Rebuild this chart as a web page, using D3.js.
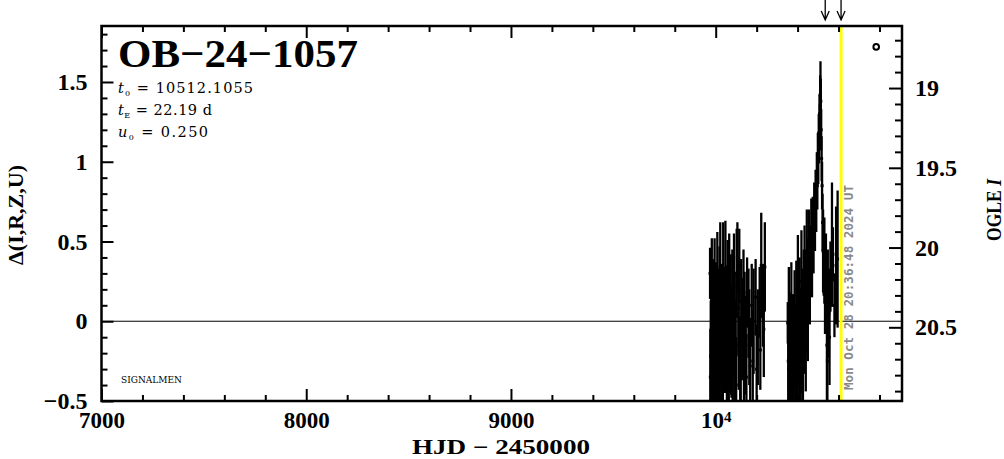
<!DOCTYPE html>
<html><head><meta charset="utf-8">
<script src="https://cdn.jsdelivr.net/npm/d3@7"></script>
<style>body{margin:0;background:#fff}svg{display:block}</style>
</head><body>
<script>
// ---------- data ----------
const eventName = "OB\u221224\u22121057";
const paramSym = ["t", "t", "u"];
const paramSub = ["0", "E", "0"];
const paramVal = ["10512.1055", "22.19 d", "0.250"];
const surveyName = "SIGNALMEN";

// season 2023
const hjd1 = [9972.5,9975.8,9978.1,9981.0,9983.4,9985.9,9988.2,9991.0,9994.6,9997.3,10001.2,10004.8,10008.0,10011.5,10015.3,10018.6,10022.4,10025.9,10029.1,10033.0,10036.7,10040.2,10043.8,10047.5,10051.0,10054.6,10058.3,10062.1,10066.0,10069.4,10073.2,10077.0,10081.3,10085.0,10089.4,10093.1,10097.8,10102.5,10106.0,10110.7,10115.2,10119.9,10124.6,10130.0,10135.8,10141.3,10147.0,10153.4,10160.2,10168.5,10176.0,10185.3,10195.0,10205.7,10214.8,10222.5,10230.6,10240.0,
  9974.0,9979.5,9986.8,9992.5,9999.0,10006.5,10013.0,10020.0,10027.5,10035.0,10045.5,10056.0,10064.0,10075.0,10083.0,10091.0,10100.0,10112.5,10122.0,10138.0,10150.0,10164.0,10181.0,10200.0,10218.0,10235.0];
const delta1 = [0.30,-0.22,-0.05,0.15,-0.30,-0.12,0.05,-0.35,0.22,-0.08,0.10,-0.18,0.30,0.02,-0.25,0.18,0.34,-0.02,0.12,-0.20,0.25,0.05,-0.12,0.33,0.10,-0.28,0.20,0.00,0.28,-0.15,0.08,-0.35,0.15,-0.05,0.22,0.05,-0.18,0.30,0.40,0.08,0.35,-0.25,0.12,-0.05,0.20,0.02,-0.15,0.18,0.05,-0.28,0.10,0.00,0.15,-0.10,0.12,0.35,0.10,0.34,
  -0.35,-0.15,-0.28,-0.40,-0.20,-0.32,-0.10,-0.38,-0.22,-0.30,-0.18,-0.36,-0.25,-0.12,-0.33,-0.20,-0.40,-0.15,-0.30,-0.22,-0.35,-0.10,-0.25,-0.30,-0.18,-0.05];
const err1 = [0.16,0.35,0.32,0.37,0.30,0.28,0.34,0.25,0.30,0.38,0.27,0.33,0.26,0.31,0.36,0.29,0.28,0.35,0.24,0.30,0.37,0.29,0.32,0.30,0.25,0.33,0.31,0.36,0.27,0.29,0.34,0.13,0.30,0.27,0.33,0.26,0.31,0.28,0.22,0.30,0.23,0.28,0.27,0.32,0.25,0.29,0.31,0.22,0.28,0.30,0.26,0.33,0.24,0.30,0.22,0.33,0.26,0.28,
  0.30,0.25,0.35,0.28,0.30,0.26,0.33,0.30,0.28,0.32,0.27,0.30,0.25,0.34,0.29,0.31,0.30,0.28,0.26,0.33,0.27,0.30,0.32,0.28,0.25,0.30];

// season 2024
const hjd2 = [10352.0,10354.5,10357.2,10360.0,10363.4,10366.1,10369.5,10373.8,10377.0,10381.6,10385.3,10389.0,10393.7,10397.2,10401.5,10405.8,10410.0,10414.3,10418.9,10422.5,10426.1,10430.4,10434.0,10437.7,10441.2,10445.0,10448.6,10452.3,10456.0,10459.8,10463.4,10467.0,10470.5,10474.2,10478.0,10481.3,10484.9,10488.0,10491.2,10494.0,10496.5,10499.0,10501.2,10503.4,10505.3,10507.0,10508.6,10510.2,10511.8,10513.5,10515.3,10517.4,10519.6,10522.0,10524.5,10527.3,10530.8,10534.0,10538.5,10543.2,10547.6,10553.0,10560.5,10568.0,10572.5,10580.0,10588.0,10595.5,
  10356.0,10362.0,10368.0,10375.5,10383.0,10391.0,10399.5,10408.0,10416.5,10424.0,10432.0,10440.0,10450.0,10545.5,10556.0];
const delta2 = [-0.01,-0.25,0.08,-0.30,-0.10,-0.35,0.12,-0.20,-0.05,-0.32,0.02,-0.15,0.10,-0.28,0.20,-0.10,0.05,-0.22,0.25,0.00,-0.30,0.15,0.32,0.05,0.20,0.40,0.10,0.30,0.45,0.22,0.40,0.55,0.35,0.60,0.50,0.70,0.62,0.80,0.72,0.92,0.85,1.05,1.00,1.18,1.12,1.30,1.25,1.42,1.51,1.38,1.20,1.02,0.85,0.62,0.44,0.40,0.38,0.20,0.30,-0.15,0.15,0.05,0.28,0.48,0.42,0.10,0.35,0.39,
  -0.30,-0.20,-0.38,-0.25,-0.15,-0.35,-0.22,-0.30,-0.12,-0.28,-0.05,-0.18,0.05,-0.25,-0.10];
const err2 = [0.13,0.30,0.26,0.22,0.28,0.25,0.25,0.32,0.22,0.26,0.30,0.25,0.28,0.27,0.34,0.30,0.35,0.28,0.32,0.33,0.25,0.30,0.28,0.27,0.25,0.30,0.28,0.22,0.25,0.24,0.20,0.22,0.20,0.18,0.20,0.17,0.18,0.15,0.16,0.14,0.15,0.13,0.14,0.12,0.13,0.12,0.11,0.12,0.12,0.12,0.13,0.14,0.15,0.18,0.26,0.24,0.27,0.28,0.25,0.40,0.30,0.28,0.22,0.39,0.17,0.20,0.37,0.43,
  0.28,0.30,0.25,0.32,0.27,0.30,0.28,0.25,0.33,0.30,0.28,0.26,0.30,0.35,0.30];

const xDomain = [7000, 10910];
const yDomain = [-0.5, 1.851];
const baseMag = 20.462;
const xMajor = [7000, 8000, 9000, 10000];
const xMajorLabels = ["7000", "8000", "9000", "10^4"];
const yMajor = [-0.5, 0, 0.5, 1, 1.5];
const yMajorLabels = ["\u22120.5", "0", "0.5", "1", "1.5"];
const magMajor = [19, 19.5, 20, 20.5];
const magMajorLabels = ["19", "19.5", "20", "20.5"];
const nowHJD = 10612.36;
const arrowHJD = [10535, 10612.36];
const stamp = "Mon Oct 28 20:36:48 2024 UT";
const markerPoint = [10784, 1.72];
const xTitle = "HJD \u2212 2450000";
const yTitle = "\u0394(I,R,Z,U)";
const magTitle = ["OGLE ", "I"];

// ---------- layout ----------
const W = 1004, H = 459;
const L = 101.5, R = 902, T = 26, B = 401;
const tickFont = "'Liberation Serif', serif";

const svg = d3.select("body").append("svg").attr("width", W).attr("height", H);

const x = d3.scaleLinear().domain(xDomain).range([L, R]);
const y = d3.scaleLinear().domain(yDomain).range([B, T]);
const yMag = d3.scaleLinear().domain([baseMag - yDomain[0], baseMag - yDomain[1]]).range([B, T]);

svg.append("defs").append("clipPath").attr("id", "plot")
  .append("rect").attr("x", L).attr("y", T).attr("width", R - L).attr("height", B - T);

// zero line
svg.append("line").attr("x1", L).attr("x2", R).attr("y1", y(0)).attr("y2", y(0))
  .attr("stroke", "#000").attr("stroke-width", 1);

// data
const pts = [];
hjd1.forEach((h, i) => pts.push({h, d: delta1[i], e: err1[i]}));
hjd2.forEach((h, i) => pts.push({h, d: delta2[i], e: err2[i]}));
const gData = svg.append("g").attr("clip-path", "url(#plot)");
gData.selectAll("line.eb").data(pts).join("line").attr("class", "eb")
  .attr("x1", d => x(d.h)).attr("x2", d => x(d.h))
  .attr("y1", d => y(d.d - d.e)).attr("y2", d => y(d.d + d.e))
  .attr("stroke", "#000").attr("stroke-width", 2.3);
gData.selectAll("rect.pt").data(pts).join("rect").attr("class", "pt")
  .attr("x", d => x(d.h) - 1.5).attr("y", d => y(d.d) - 1.5)
  .attr("width", 3).attr("height", 3).attr("fill", "#000");

// marker circle
svg.append("circle").attr("cx", x(markerPoint[0])).attr("cy", y(markerPoint[1])).attr("r", 2.8)
  .attr("fill", "none").attr("stroke", "#000").attr("stroke-width", 2);

// current-time line
svg.append("line").attr("x1", x(nowHJD)).attr("x2", x(nowHJD)).attr("y1", T).attr("y2", B)
  .attr("stroke", "#ffff00").attr("stroke-width", 3);

// timestamp
svg.append("text")
  .attr("transform", `translate(${x(nowHJD) + 12},${B - 11}) rotate(-90)`)
  .attr("font-family", "'DejaVu Sans Mono', monospace").attr("font-weight", "bold")
  .attr("font-size", 12.5).attr("fill", "#8a8a8a")
  .attr("textLength", 205).attr("lengthAdjust", "spacingAndGlyphs")
  .text(stamp);

function styleAxis(g, size) {
  g.select(".domain").remove();
  g.selectAll(".tick line").attr("stroke", "#000").attr("stroke-width", 2);
  g.selectAll("text").attr("font-family", tickFont).attr("font-weight", "bold")
    .attr("font-size", size || 24).attr("fill", "#000");
}
const xMinor = x.ticks(20).filter(v => xMajor.indexOf(v) < 0);
const yMinor = y.ticks(25).filter(v => !yMajor.some(m => Math.abs(m - v) < 1e-9));
const magMinor = yMag.ticks(25).filter(v => !magMajor.some(m => Math.abs(m - v) < 1e-9));

// bottom
svg.append("g").attr("transform", `translate(0,${B})`)
  .call(d3.axisBottom(x).tickValues(xMinor).tickSize(-6).tickFormat("")).call(styleAxis);
const gxb = svg.append("g").attr("transform", `translate(0,${B})`)
  .call(d3.axisBottom(x).tickValues(xMajor).tickSize(-12).tickPadding(11)
    .tickFormat((d, i) => xMajorLabels[i])).call(g => styleAxis(g, 23));
gxb.selectAll(".tick text").each(function(d, i) {
  const lab = xMajorLabels[i];
  if (lab.indexOf("^") >= 0) {
    const [b, s] = lab.split("^");
    const t = d3.select(this).text("");
    t.append("tspan").text(b);
    t.append("tspan").attr("dy", "-0.45em").attr("font-size", 15).text(s);
  }
});
// top
svg.append("g").attr("transform", `translate(0,${T})`)
  .call(d3.axisTop(x).tickValues(xMinor).tickSize(-6).tickFormat("")).call(styleAxis);
svg.append("g").attr("transform", `translate(0,${T})`)
  .call(d3.axisTop(x).tickValues(xMajor).tickSize(-12).tickFormat("")).call(styleAxis);
// left
svg.append("g").attr("transform", `translate(${L},0)`)
  .call(d3.axisLeft(y).tickValues(yMinor).tickSize(-6).tickFormat("")).call(styleAxis);
svg.append("g").attr("transform", `translate(${L},0)`)
  .call(d3.axisLeft(y).tickValues(yMajor).tickSize(-12).tickPadding(14)
    .tickFormat((d, i) => yMajorLabels[i])).call(styleAxis);
// right (OGLE I)
svg.append("g").attr("transform", `translate(${R},0)`)
  .call(d3.axisRight(yMag).tickValues(magMinor).tickSize(-7).tickFormat("")).call(styleAxis);
svg.append("g").attr("transform", `translate(${R},0)`)
  .call(d3.axisRight(yMag).tickValues(magMajor).tickSize(-13).tickPadding(13)
    .tickFormat((d, i) => magMajorLabels[i])).call(styleAxis);

// frame
svg.append("rect").attr("x", L).attr("y", T).attr("width", R - L).attr("height", B - T)
  .attr("fill", "none").attr("stroke", "#000").attr("stroke-width", 2.5);

// arrows
const gA = svg.append("g").attr("stroke", "#000").attr("stroke-width", 1.3).attr("fill", "none");
arrowHJD.forEach(h => {
  const ax = x(h);
  gA.append("path").attr("d", `M${ax},0 L${ax},20 M${ax - 4},11 L${ax},20 L${ax + 4},11`);
});

// axis titles
svg.append("text").attr("x", 501).attr("y", 454).attr("text-anchor", "middle")
  .attr("font-family", tickFont).attr("font-weight", "bold").attr("font-size", 21)
  .attr("textLength", 178).attr("lengthAdjust", "spacingAndGlyphs")
  .text(xTitle);
svg.append("text").attr("transform", `translate(23,${215}) rotate(-90)`).attr("text-anchor", "middle")
  .attr("font-family", tickFont).attr("font-weight", "bold").attr("font-size", 22)
  .text(yTitle);
const mt = svg.append("text").attr("transform", `translate(1001,${210}) rotate(-90)`).attr("text-anchor", "middle")
  .attr("font-family", tickFont).attr("font-weight", "bold").attr("font-size", 20)
  .attr("textLength", 62).attr("lengthAdjust", "spacingAndGlyphs");
mt.append("tspan").text(magTitle[0]);
mt.append("tspan").attr("font-style", "italic").text(magTitle[1]);

// title & params
svg.append("text").attr("x", 118).attr("y", 67)
  .attr("font-family", "'Liberation Serif', serif").attr("font-weight", "bold").attr("font-size", 40)
  .attr("textLength", 240).attr("lengthAdjust", "spacingAndGlyphs")
  .text(eventName);
const pBase = [93, 115, 137];
const pLen = [135, 94, 90];
paramSym.forEach((s, i) => {
  const t = svg.append("text").attr("x", 118).attr("y", pBase[i])
    .attr("font-family", "'DejaVu Serif', serif").attr("font-size", 14.5)
    .attr("textLength", pLen[i]).attr("lengthAdjust", "spacing");
  t.append("tspan").attr("font-style", "italic").text(s);
  t.append("tspan").attr("font-size", 8).attr("dy", 3).text(paramSub[i]);
  t.append("tspan").attr("dy", -3).text(" = " + paramVal[i]);
});
svg.append("text").attr("x", 121).attr("y", 383)
  .attr("font-family", "'DejaVu Serif', serif").attr("font-size", 9)
  .text(surveyName);
</script>
</body></html>
